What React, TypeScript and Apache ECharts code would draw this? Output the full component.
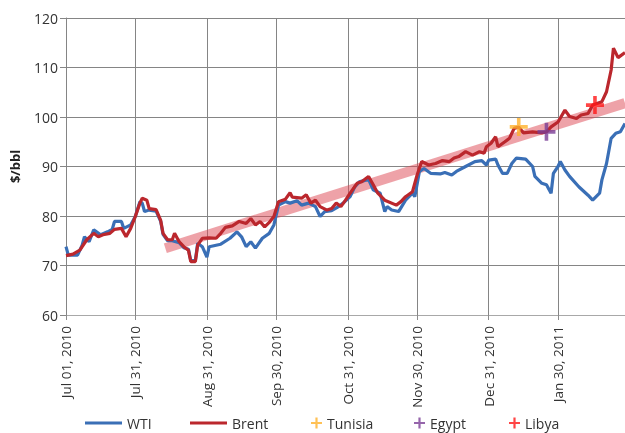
import React, { useEffect, useRef } from "react";
import * as echarts from "echarts";

// x values are days since 2010-07-01
const tickDays = [0, 30, 61, 91, 122, 152, 183, 213];
const tickLabels = [
  "Jul 01, 2010",
  "Jul 31, 2010",
  "Aug 31, 2010",
  "Sep 30, 2010",
  "Oct 31, 2010",
  "Nov 30, 2010",
  "Dec 31, 2010",
  "Jan 30, 2011",
];

const brentDays = [0, 3, 6, 9, 12, 14, 16, 19, 21, 24, 26, 28, 30, 32, 33, 35, 36, 39, 41, 42, 44, 46, 47, 49, 51, 53, 54, 56, 57, 59, 62, 65, 67, 69, 72, 75, 78, 80, 82, 84, 86, 88, 90, 92, 95, 97, 98, 102, 104, 106, 108, 110, 113, 115, 117, 119, 121, 123, 126, 128, 131, 133, 135, 138, 143, 145, 147, 150, 152, 154, 157, 160, 163, 166, 168, 170, 173, 176, 179, 181, 182, 184, 186, 187, 190, 192, 194, 196, 198, 202, 206, 208, 210, 213, 216, 218, 221, 223, 226, 228, 232, 234, 236, 237, 239, 242];
const brentValues = [72.0, 72.3, 73.1, 75.2, 76.5, 75.8, 76.2, 76.5, 77.3, 77.5, 75.8, 77.5, 79.9, 82.6, 83.6, 83.2, 81.5, 81.3, 79.1, 76.5, 75.2, 75.2, 76.5, 74.8, 73.8, 73.1, 70.8, 70.8, 74.1, 75.5, 75.6, 75.5, 76.5, 77.7, 78.0, 78.9, 78.5, 79.5, 78.2, 78.9, 77.8, 78.7, 79.9, 82.9, 83.4, 84.7, 83.8, 83.6, 84.3, 82.6, 83.2, 81.9, 81.2, 81.5, 82.6, 81.9, 83.2, 84.6, 86.6, 86.9, 88.0, 86.3, 84.6, 83.2, 82.2, 82.9, 83.9, 84.9, 88.3, 91.0, 90.3, 90.6, 91.2, 91.0, 91.7, 92.0, 93.0, 92.3, 93.0, 92.7, 94.0, 94.7, 96.0, 94.0, 95.0, 95.7, 97.7, 98.0, 96.8, 97.0, 96.8, 97.0, 98.0, 99.0, 101.4, 100.1, 99.7, 100.4, 100.7, 102.4, 103.1, 105.1, 109.5, 113.9, 112.0, 113.0];

const wtiDays = [0, 1, 5, 7, 8, 10, 12, 15, 18, 20, 21, 24, 25, 28, 30, 32, 33, 34, 36, 39, 41, 42, 44, 46, 49, 51, 53, 54, 56, 57, 59, 61, 62, 65, 67, 71, 74, 76, 78, 80, 82, 85, 88, 90, 92, 95, 97, 100, 102, 105, 108, 110, 112, 115, 118, 120, 123, 125, 127, 131, 133, 136, 138, 139, 141, 144, 147, 150, 151, 153, 155, 158, 162, 164, 167, 169, 173, 177, 180, 182, 183, 186, 187, 189, 191, 193, 195, 199, 202, 203, 206, 208, 210, 211, 213, 214, 216, 218, 222, 226, 228, 231, 232, 234, 236, 238, 240, 242];
const wtiValues = [73.8, 72.1, 72.1, 74.1, 75.8, 74.8, 77.2, 76.2, 76.8, 77.3, 78.9, 78.9, 77.5, 78.2, 79.9, 82.9, 82.6, 80.9, 81.2, 81.0, 78.9, 76.3, 75.0, 75.0, 74.6, 73.6, 73.3, 71.0, 71.0, 74.5, 73.8, 71.7, 73.8, 74.1, 74.3, 75.5, 76.8, 75.8, 73.8, 74.8, 73.5, 75.5, 76.5, 78.2, 82.2, 82.9, 82.6, 83.1, 82.2, 82.6, 81.9, 79.9, 80.9, 81.1, 81.9, 82.6, 83.9, 85.9, 86.9, 87.4, 85.3, 84.6, 80.9, 81.9, 81.2, 80.9, 83.2, 84.6, 83.9, 89.0, 89.6, 88.6, 88.5, 88.8, 88.3, 89.0, 90.0, 91.0, 91.2, 90.3, 91.3, 91.5, 90.3, 88.6, 88.6, 90.6, 91.7, 91.5, 90.0, 88.0, 86.6, 86.3, 84.6, 88.6, 90.0, 91.0, 89.3, 88.0, 85.9, 84.2, 83.2, 84.6, 87.3, 90.6, 95.7, 96.7, 97.0, 98.7];

const trendDays = [43, 242];
const trendValues = [73.5, 102.8];

const eventNames = ["Tunisia", "Egypt", "Libya"];
const eventDays = [196, 208, 229];
const eventValues = [98.0, 97.0, 102.4];
const eventColors = ["#ffb22b", "#7a3e96", "#ff1717"];

const yTicks = { min: 60, max: 120, step: 10 };
const xMax = 242;

const PLUS = "path://M0,8H20V12H0Z M8,0H12V20H8Z";
const FONT = "Open Sans";

function pairs(xs: number[], ys: number[]) {
  return xs.map((x, i) => [x, ys[i]]);
}

export default function App() {
  const ref = useRef<HTMLDivElement>(null);
  useEffect(() => {
    if (!ref.current) return;
    const chart = echarts.init(ref.current, undefined, { renderer: "svg" });
    const legendBase = {
      top: 416,
      padding: 0,
      textStyle: { fontFamily: FONT, fontSize: 14, color: "#333" },
      itemGap: 0,
      selectedMode: false,
    };
    const lineLegendX = [85, 190];
    const eventLegendX = [311, 414, 509];
    chart.setOption({
      animation: false,
      textStyle: { fontFamily: FONT },
      grid: { left: 66, right: 0, top: 18, bottom: 118, outerBoundsMode: "none" },
      legend: [
        ...["WTI", "Brent"].map((n, i) => ({
          ...legendBase,
          left: lineLegendX[i],
          itemWidth: 37,
          itemHeight: 3,
          data: [{ name: n, icon: "rect" }],
        })),
        ...eventNames.map((n, i) => ({
          ...legendBase,
          left: eventLegendX[i],
          itemWidth: 11,
          itemHeight: 11,
          data: [{ name: n }],
        })),
      ],
      xAxis: {
        type: "value",
        min: 0,
        max: xMax,
        axisLine: { show: true, lineStyle: { color: "#a8a8a8", width: 1 } },
        axisTick: {
          show: true,
          customValues: tickDays,
          length: 5,
          lineStyle: { color: "#8c8c8c" },
        },
        axisLabel: {
          customValues: tickDays,
          rotate: 90,
          margin: 11,
          fontSize: 13.5,
          color: "#333",
          fontFamily: FONT,
          formatter: (v: number) => {
            const i = tickDays.indexOf(Math.round(v));
            return i >= 0 ? tickLabels[i] : "";
          },
        },
        splitLine: { show: true, lineStyle: { color: "#858585", width: 1 } },
      },
      yAxis: {
        type: "value",
        min: yTicks.min,
        max: yTicks.max,
        interval: yTicks.step,
        name: "$/bbl",
        nameLocation: "middle",
        nameGap: 45,
        nameTextStyle: { fontFamily: FONT, fontSize: 13, fontWeight: "bold", color: "#222" },
        axisLine: { show: true, lineStyle: { color: "#858585" } },
        axisTick: { show: true, length: 6, lineStyle: { color: "#858585" } },
        axisLabel: { fontSize: 14, color: "#333", margin: 8, fontFamily: FONT },
        splitLine: { show: true, lineStyle: { color: "#858585", width: 1 } },
      },
      series: [
        {
          name: "Trend",
          type: "line",
          data: pairs(trendDays, trendValues),
          showSymbol: false,
          silent: true,
          lineStyle: { color: "rgba(222, 70, 82, 0.5)", width: 10, cap: "butt" },
          z: 1,
        },
        {
          name: "WTI",
          type: "line",
          data: pairs(wtiDays, wtiValues),
          showSymbol: false,
          color: "#3a6fb6",
          lineStyle: { color: "#3a6fb6", width: 3.2 },
          z: 2,
        },
        {
          name: "Brent",
          type: "line",
          data: pairs(brentDays, brentValues),
          showSymbol: false,
          color: "#bb272d",
          lineStyle: { color: "#bb272d", width: 3.2 },
          z: 3,
        },
        ...eventNames.map((n, i) => ({
          name: n,
          type: "scatter",
          data: [[eventDays[i], eventValues[i]]],
          symbol: PLUS,
          symbolSize: 18,
          itemStyle: { color: eventColors[i] },
          z: 4,
        })),
      ],
    });
    return () => chart.dispose();
  }, []);
  return (
    <div
      ref={ref}
      style={{ position: "fixed", left: 0, top: 0, width: 625, height: 433 }}
    />
  );
}
